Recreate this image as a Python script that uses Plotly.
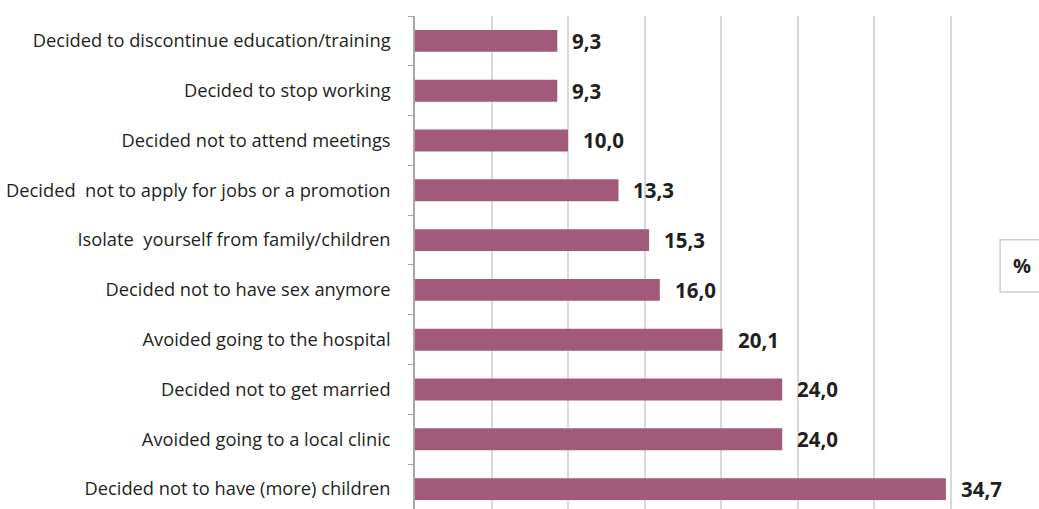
import plotly.graph_objects as go

categories = [
    "Decided to discontinue education/training",
    "Decided to stop working",
    "Decided not to attend meetings",
    "Decided  not to apply for jobs or a promotion",
    "Isolate  yourself from family/children",
    "Decided not to have sex anymore",
    "Avoided going to the hospital",
    "Decided not to get married",
    "Avoided going to a local clinic",
    "Decided not to have (more) children",
]
values = [9.3, 9.3, 10.0, 13.3, 15.3, 16.0, 20.1, 24.0, 24.0, 34.7]
unit_label = "%"

BAR_COLOR = "#a25a7b"
TEXT_COLOR = "#231f20"
GRID_COLOR = "#d9d9d9"

fig = go.Figure()
fig.add_trace(go.Bar(
    x=values,
    y=categories,
    orientation="h",
    width=0.44,
    marker=dict(color=BAR_COLOR, line=dict(width=0)),
    hoverinfo="skip",
))

# value labels, comma as decimal separator
for cat, v in zip(categories, values):
    fig.add_annotation(
        x=v, y=cat, xref="x", yref="y",
        text=f"{v:.1f}".replace(".", ","),
        showarrow=False, xanchor="left", yanchor="middle",
        xshift=13,
        font=dict(family="Open Sans", size=20.5, color=TEXT_COLOR, weight="bold"),
    )

# unit box on the right edge
fig.add_shape(
    type="rect", xref="paper", yref="paper",
    x0=0.956, x1=1.04, y0=0.440, y1=0.546,
    line=dict(color="#cfcfcf", width=1.5),
    fillcolor="white", layer="above",
)
fig.add_annotation(
    x=(1022 - 415) / 612, y=0.493, xref="paper", yref="paper",
    text=unit_label, showarrow=False, xanchor="center", yanchor="middle",
    font=dict(family="Open Sans", size=20, color=TEXT_COLOR, weight="bold"),
)

fig.update_layout(
    width=1039, height=509,
    margin=dict(l=415, r=12, t=16, b=0),
    paper_bgcolor="white", plot_bgcolor="white",
    showlegend=False,
    bargap=0.56,
)
fig.update_xaxes(
    range=[0, 40], dtick=5,
    showgrid=True, gridcolor=GRID_COLOR, gridwidth=1.5,
    showticklabels=False, zeroline=False, showline=False,
    fixedrange=True,
)
fig.update_yaxes(
    type="category",
    categoryorder="array", categoryarray=categories,
    range=[9.4, -0.5],
    showline=True, linecolor="#a6a6a6", linewidth=1.5,
    ticks="outside", tickson="boundaries", ticklen=5, tickcolor="#a6a6a6",
    tickfont=dict(family="Open Sans", size=18.3, color=TEXT_COLOR),
    ticklabelstandoff=19,
    showgrid=False, zeroline=False, fixedrange=True,
)

fig.write_html("out.html")
